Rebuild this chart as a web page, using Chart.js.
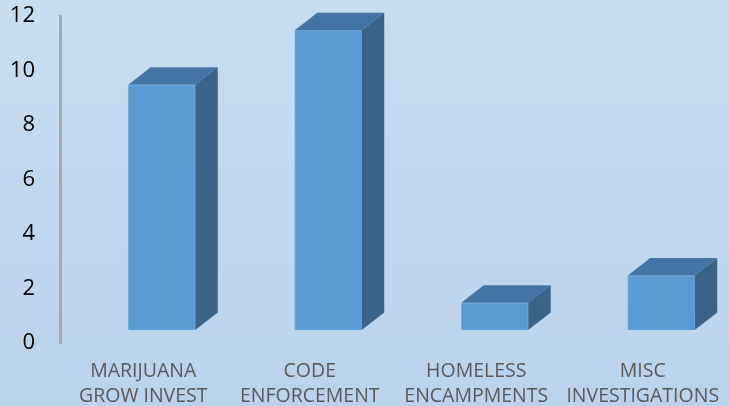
<!DOCTYPE html>
<html>
<head>
<meta charset="utf-8">
<script src="https://cdn.jsdelivr.net/npm/chart.js@4"></script>
<style>
  html, body { margin: 0; padding: 0; background: #c2d9ef; }
  canvas { display: block; }
</style>
</head>
<body>
<canvas id="chart" width="729" height="406"></canvas>
<script>
// categories and counts
var categories = [
    ['MARIJUANA', 'GROW INVEST'],
    ['CODE', 'ENFORCEMENT'],
    ['HOMELESS', 'ENCAMPMENTS'],
    ['MISC', 'INVESTIGATIONS']
];
var counts = [9, 11, 1, 2];
var yTicks = [0, 2, 4, 6, 8, 10, 12];

var points = counts.map(function(v, i) {
    return { x: i, y: v };
});

// fake 3d: top and side faces drawn from the bar elements
var depthX = 22.5;
var depthY = 17.5;
var bars3d = {
    id: 'bars3d',
    beforeDraw: function(chart) {
        var ctx = chart.ctx;
        var g = ctx.createLinearGradient(0, 0, 0, chart.height);
        g.addColorStop(0, '#c7ddf1');
        g.addColorStop(1, '#b9d3ec');
        ctx.save();
        ctx.fillStyle = g;
        ctx.fillRect(0, 0, chart.width, chart.height);
        ctx.restore();
    },
    afterDatasetsDraw: function(chart) {
        var ctx = chart.ctx;
        var meta = chart.getDatasetMeta(0);
        ctx.save();
        meta.data.forEach(function(bar) {
            var p = bar.getProps(['x', 'y', 'base', 'width'], true);
            var l = p.x - p.width / 2;
            var r = p.x + p.width / 2;
            // top
            ctx.beginPath();
            ctx.moveTo(l, p.y);
            ctx.lineTo(l + depthX, p.y - depthY);
            ctx.lineTo(r + depthX, p.y - depthY);
            ctx.lineTo(r, p.y);
            ctx.closePath();
            ctx.fillStyle = '#4474a3';
            ctx.fill();
            // side
            ctx.beginPath();
            ctx.moveTo(r, p.y);
            ctx.lineTo(r + depthX, p.y - depthY);
            ctx.lineTo(r + depthX, p.base - depthY);
            ctx.lineTo(r, p.base);
            ctx.closePath();
            ctx.fillStyle = '#3a6387';
            ctx.fill();
        });
        ctx.restore();
    }
};

new Chart(document.getElementById('chart'), {
    type: 'bar',
    data: {
        labels: categories,
        datasets: [{
            data: points,
            xAxisID: 'xb',
            yAxisID: 'yb',
            backgroundColor: '#5b9bd5',
            borderColor: 'rgba(110,165,215,0.8)',
            borderWidth: 1,
            barThickness: 67
        }]
    },
    options: {
        responsive: false,
        animation: false,
        devicePixelRatio: 1,
        layout: { padding: { top: 16, right: 3, left: 0, bottom: 0 } },
        plugins: {
            legend: { display: false },
            tooltip: { enabled: false }
        },
        scales: {
            x: {
                type: 'category',
                offset: true,
                grid: { display: false },
                border: { display: false },
                ticks: {
                    color: '#595959',
                    font: { family: 'Open Sans', size: 19.5, lineHeight: 1.29 },
                    maxRotation: 0,
                    autoSkip: false,
                    padding: 8
                },
                afterFit: function(s) { s.height = 63; }
            },
            y: {
                type: 'linear',
                min: 0,
                max: 12,
                grid: { display: false },
                border: { display: true, color: '#a3a9b0', width: 3 },
                afterBuildTicks: function(s) {
                    s.ticks = yTicks.map(function(v) { return { value: v }; });
                },
                ticks: {
                    color: '#000000',
                    font: { family: 'Open Sans', size: 22 },
                    padding: 17
                },
                afterFit: function(s) {
                    s.width = 60;
                    s.paddingTop = 0;
                    s.paddingBottom = 0;
                }
            },
            xb: {
                type: 'linear',
                display: false,
                offset: false,
                min: -0.611,
                max: 3.389
            },
            yb: {
                type: 'linear',
                display: false,
                min: -0.477,
                max: 11.523
            }
        }
    },
    plugins: [bars3d]
});
</script>
</body>
</html>
